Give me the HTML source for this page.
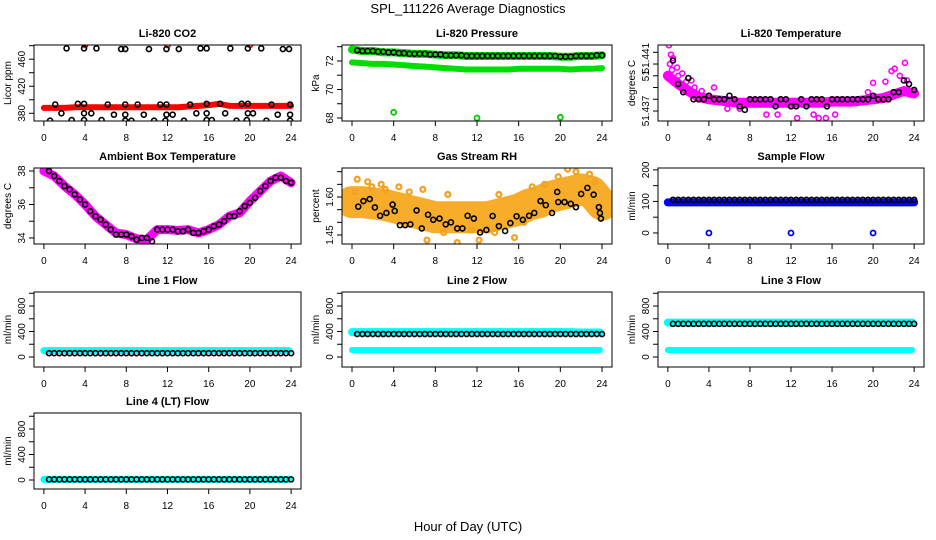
<!DOCTYPE html>
<html><head><meta charset="utf-8"><style>
html,body{margin:0;padding:0;background:#fff;}
svg{display:block;font-family:"Liberation Sans",sans-serif;}
</style></head><body>
<svg id="chart" width="936" height="540" viewBox="0 0 936 540" xmlns="http://www.w3.org/2000/svg">
<text x="468" y="13" text-anchor="middle" font-size="13">SPL_111226  Average Diagnostics</text>
<text x="468" y="531" text-anchor="middle" font-size="13">Hour of Day (UTC)</text>
</svg>
<script>
// ---- data ----
const hoursFull = [0,1,2,3,4,5,6,7,8,9,10,11,12,13,14,15,16,17,18,19,20,21,22,23,24];
const hoursHalf = [0.5,1,1.5,2,2.5,3,3.5,4,4.5,5,5.5,6,6.5,7,7.5,8,8.5,9,9.5,10,10.5,11,11.5,12,12.5,13,13.5,14,14.5,15,15.5,16,16.5,17,17.5,18,18.5,19,19.5,20,20.5,21,21.5,22,22.5,23,23.5,24];
const outlierHours = [4,12,20];
const xTicks = [0,4,8,12,16,20,24];

const co2Band = [388,388,388,389,389,389,389,389,389,389,389,389,389,389,390,391,392,394,391,391,391,391,391,391,391];
const co2PtHours = [2.2,3.9,5.1,7.5,7.9,10.2,11.9,13.1,15.2,15.8,18.1,19.8,21.1,23.2,23.8,
 1.1,3.3,3.9,6.2,7.9,9.1,11.3,11.9,14.2,15.8,17.1,19.2,19.8,22.1,23.9,
 1.7,3.9,4.6,6.8,7.9,9.7,11.9,12.5,14.8,15.8,17.6,19.8,20.3,22.7,23.9,
 0.6,2.7,3.9,5.6,7.9,8.5,10.7,11.8,13.6,15.8,16.3,18.7,19.7,21.6,23.9];
const co2PtVals = [476,476,476,475,475,475,475,475,476,476,476,476,476,475,475,
 393,394,394,393,393,393,393,393,393,394,394,394,394,393,393,
 380,380,380,378,378,378,378,378,380,380,380,380,380,378,378,
 369,370,370,370,369,369,369,369,369,370,370,369,370,369,369];
const co2Outliers = [481,481,481];

const presUpper = [72.8,72.7,72.7,72.6,72.6,72.55,72.5,72.5,72.45,72.4,72.4,72.35,72.35,72.35,72.35,72.35,72.35,72.35,72.35,72.35,72.3,72.3,72.35,72.35,72.4];
const presLower = [71.9,71.85,71.8,71.8,71.75,71.7,71.65,71.6,71.55,71.5,71.45,71.4,71.4,71.4,71.4,71.4,71.45,71.45,71.45,71.45,71.45,71.4,71.45,71.45,71.5];
const presBlack = [72.75,72.7,72.7,72.7,72.65,72.65,72.6,72.6,72.55,72.55,72.5,72.5,72.5,72.5,72.45,72.45,72.45,72.4,72.4,72.4,72.4,72.35,72.35,72.35,72.35,72.35,72.35,72.35,72.35,72.35,72.35,72.35,72.35,72.35,72.35,72.35,72.35,72.35,72.35,72.3,72.3,72.3,72.35,72.35,72.35,72.35,72.4,72.4];
const presOutliers = [68.4,68.0,68.05];

const tempBand = [51.4400,51.4393,51.4387,51.4382,51.4380,51.4379,51.4378,51.4377,51.4377,51.4377,51.4377,51.4377,51.4377,51.4377,51.4377,51.4377,51.4378,51.4378,51.4378,51.4379,51.4380,51.4381,51.4384,51.4387,51.4385];
const tempScatHours = [0.1,0.3,0.5,0.9,1.4,2.3,4.5,5.8,7.0,9.6,10.7,12.6,14.2,14.7,15.4,16.3,20.0,21.2,21.8,22.1,23.1,23.3,23.6,0.2,1.0,0.4,1.8,2.6,3.3,19.5,22.6];
const tempScatVals = [51.4426,51.4418,51.4415,51.4407,51.4402,51.4396,51.4390,51.4372,51.4372,51.4367,51.4367,51.4364,51.4367,51.4364,51.4364,51.4367,51.4394,51.4395,51.4404,51.4406,51.4411,51.4396,51.4384,51.4410,51.4400,51.4405,51.4395,51.4390,51.4387,51.4386,51.4400];
const tempBlack = [51.4413,51.4393,51.4386,51.4398,51.4380,51.4380,51.4380,51.4383,51.4380,51.4380,51.4380,51.4383,51.4380,51.4374,51.4371,51.4380,51.4380,51.4380,51.4380,51.4380,51.4374,51.4380,51.4380,51.4374,51.4374,51.4380,51.4374,51.4380,51.4380,51.4380,51.4374,51.4380,51.4380,51.4380,51.4380,51.4380,51.4380,51.4380,51.4380,51.4383,51.4380,51.4380,51.4380,51.4386,51.4386,51.4396,51.4393,51.4388];

const ambBand = [38,37.7,37.1,36.6,36.0,35.3,34.8,34.3,34.2,33.95,33.9,34.5,34.5,34.45,34.5,34.3,34.5,34.8,35.3,35.5,36.2,36.8,37.4,37.7,37.3];
const ambBlack = [38.0,37.7,37.4,37.1,36.9,36.6,36.3,36.0,35.6,35.3,35.1,34.8,34.5,34.2,34.2,34.2,34.1,33.9,34.0,34.0,33.8,34.5,34.5,34.5,34.5,34.4,34.4,34.5,34.3,34.3,34.4,34.5,34.7,34.8,35.0,35.3,35.3,35.6,35.9,36.1,36.4,36.8,37.1,37.4,37.6,37.6,37.4,37.3];

const rhBand = [1.58,1.58,1.575,1.57,1.56,1.55,1.54,1.53,1.52,1.52,1.52,1.52,1.52,1.52,1.53,1.54,1.55,1.57,1.58,1.60,1.61,1.62,1.63,1.62,1.57];
const rhScatHours = [0.5,1.5,2.8,4.5,7.2,9.2,10.1,12.2,14.1,15.6,19.8,20.7,21.5,22.8,23.3,6.8,3.2,0.3,1.9,5.5,8.8,11.5,13.7,16.5,18.5,17.3];
const rhScatVals = [1.67,1.66,1.65,1.64,1.43,1.61,1.42,1.43,1.61,1.44,1.68,1.71,1.70,1.69,1.66,1.63,1.63,1.62,1.64,1.62,1.46,1.47,1.46,1.50,1.65,1.64];
const rhHours = [0.6,1.1,1.7,2.2,2.7,3.3,3.9,4.1,4.6,5.1,5.6,6.2,6.7,7.3,7.8,8.4,9.0,9.5,10.1,10.6,11.1,11.7,12.3,12.9,13.5,14.1,14.7,15.2,15.8,16.4,17.0,17.5,18.1,18.6,19.2,19.7,19.8,20.4,21.0,21.5,22.0,22.6,23.2,23.7,23.8,23.9];
const rhVals = [1.562,1.584,1.592,1.559,1.526,1.537,1.57,1.545,1.489,1.489,1.492,1.547,1.476,1.53,1.51,1.515,1.492,1.50,1.476,1.476,1.526,1.515,1.46,1.47,1.525,1.485,1.466,1.497,1.524,1.51,1.526,1.537,1.584,1.568,1.537,1.62,1.58,1.58,1.573,1.56,1.612,1.636,1.609,1.56,1.537,1.515];

const sampleBand = [97,97,97,97,97,97,97,97,97,97,97,97,97,97,97,97,97,97,97,97,97,97,97,97,97];
const sampleBlack = [105,105,105,105,105,105,105,105,105,105,105,105,105,105,105,105,105,105,105,105,105,105,105,105,105,105,105,105,105,105,105,105,105,105,105,105,105,105,105,105,105,105,105,105,105,105,105,105];
const sampleOutliers = [0,0,0];

const line1Cyan = [100,100,100,100,100,100,100,100,100,100,100,100,100,100,100,100,100,100,100,100,100,100,100,100,100];
const line1Black = [60,60,60,60,60,60,60,60,60,60,60,60,60,60,60,60,60,60,60,60,60,60,60,60,60,60,60,60,60,60,60,60,60,60,60,60,60,60,60,60,60,60,60,60,60,60,60,60];
const line2CyanHi = [390,390,390,390,390,390,390,390,390,390,390,390,390,390,390,390,390,390,390,390,390,390,385,385,385];
const line2CyanLo = [110,110,110,110,110,110,110,110,110,110,110,110,110,110,110,110,110,110,110,110,110,110,110,110,110];
const line2Black = [360,360,360,360,360,360,360,360,360,360,360,360,360,360,360,360,360,360,360,360,360,360,360,360,360,360,360,360,360,360,360,360,360,360,360,360,360,360,360,360,360,360,360,360,360,360,360,360];
const line3CyanHi = [540,540,540,540,540,540,540,540,540,540,540,540,540,540,540,540,540,540,540,540,540,540,540,540,540];
const line3CyanLo = [110,110,110,110,110,110,110,110,110,110,110,110,110,110,110,110,110,110,110,110,110,110,110,110,110];
const line3Black = [520,520,520,520,520,520,520,520,520,520,520,520,520,520,520,520,520,520,520,520,520,520,520,520,520,520,520,520,520,520,520,520,520,520,520,520,520,520,520,520,520,520,520,520,520,520,520,520];
const line4Cyan = [10,10,10,10,10,10,10,10,10,10,10,10,10,10,10,10,10,10,10,10,10,10,10,10,10];
const line4Black = [10,10,10,10,10,10,10,10,10,10,10,10,10,10,10,10,10,10,10,10,10,10,10,10,10,10,10,10,10,10,10,10,10,10,10,10,10,10,10,10,10,10,10,10,10,10,10,10];

// ---- drawing ----
const NS = "http://www.w3.org/2000/svg";
const svg = document.getElementById("chart");
function mk(tag, attrs, parent) {
  const e = document.createElementNS(NS, tag);
  for (const k in attrs) e.setAttribute(k, attrs[k]);
  (parent || svg).appendChild(e);
  return e;
}
function makePanel(p) {
  const g = mk("g", {});
  
  
  const b = p.box;
  const xs = h => b[0] + (h + 0.96) / 25.92 * (b[2] - b[0]);
  const ys = v => b[3] - (v - p.yd[0]) / (p.yd[1] - p.yd[0]) * (b[3] - b[1]);
  p.xs = xs; p.ys = ys; p.g = g;
  const t = mk("text", {x: (b[0] + b[2]) / 2, y: b[1] - 8, "text-anchor": "middle", "font-size": 11, "font-weight": "bold"}, g);
  t.textContent = p.title;
  
  
  const ax = mk("g", {stroke: "#000", "stroke-width": 1}, g);
  
  
  mk("line", {x1: xs(0), x2: xs(24), y1: b[3], y2: b[3]}, ax);
  xTicks.forEach(v => {
    mk("line", {x1: xs(v), x2: xs(v), y1: b[3], y2: b[3] + 5}, ax);
    const lt = mk("text", {x: xs(v), y: b[3] + 20, "text-anchor": "middle", "font-size": 10, stroke: "none"}, ax);
    lt.textContent = v;
    
    
  });
  const ay = mk("g", {stroke: "#000", "stroke-width": 1}, g);
  
  
  mk("line", {x1: b[0], x2: b[0], y1: ys(p.yt[0]), y2: ys(p.yt[p.yt.length - 1])}, ay);
  p.yt.forEach(v => mk("line", {x1: b[0] - 5, x2: b[0], y1: ys(v), y2: ys(v)}, ay));
  p.yl.forEach((lab, i) => {
    const y = ys(p.ylv[i]);
    const lt = mk("text", {x: b[0] - 9, y: y, "text-anchor": "middle", "font-size": 10, stroke: "none", transform: `rotate(-90 ${b[0] - 9} ${y})`}, ay);
    lt.textContent = lab;
    
    
  });
  const yt = mk("text", {x: b[0] - 23, y: (b[1] + b[3]) / 2, "text-anchor": "middle", "font-size": 10, transform: `rotate(-90 ${b[0] - 23} ${(b[1] + b[3]) / 2})`}, g);
  yt.textContent = p.ylab;
  
  
  const cp = mk("clipPath", {id: "clip-" + p.name}, g);
  mk("rect", {x: b[0], y: b[1], width: b[2] - b[0], height: b[3] - b[1]}, cp);
  p.plot = mk("g", {"clip-path": "url(#clip-" + p.name + ")"}, g);
  return p;
}
function band(p, hrs, vals, color, width, name) {
  const pts = hrs.map((h, i) => p.xs(h) + "," + p.ys(vals[i])).join(" ");
  const l = mk("polyline", {points: pts, fill: "none", stroke: color, "stroke-width": width, "stroke-linecap": "round", "stroke-linejoin": "round"}, p.plot);
  
  
}
function pts(p, hrs, vals, color, r, sw, name) {
  const g = mk("g", {fill: "none", stroke: color, "stroke-width": sw}, p.plot);
  
  
  hrs.forEach((h, i) => {
    const c = mk("circle", {cx: p.xs(h), cy: p.ys(vals[i]), r: r}, g);
    
    
  });
}
function frame(p) {
  const b = p.box;
  const r = mk("rect", {x: b[0], y: b[1], width: b[2] - b[0], height: b[3] - b[1], fill: "none", stroke: "#000", "stroke-width": 1}, p.g);
  
  
}
const cols = [[34, 301], [342, 612], [658, 924]];
const rows = [[45, 121], [168, 244], [292, 367], [413, 489]];
const B = (c, r) => [cols[c][0], rows[r][0], cols[c][1], rows[r][1]];
const flowT = [0, 200, 400, 600, 800, 1000];

// CO2
let p = makePanel({name: "co2", title: "Li-820 CO2", box: B(0, 0), yd: [368.6, 481], yt: [380, 400, 420, 440, 460, 480], yl: ["380", "420", "460"], ylv: [380, 420, 460], ylab: "Licor ppm"});
band(p, hoursFull, co2Band, "#ff0000", 6, "co2-red-series");
pts(p, outlierHours, co2Outliers, "#ff0000", 2.5, 1.8, "co2-red-outliers");
pts(p, co2PtHours, co2PtVals, "#000", 2.5, 1.6, "co2-black-series");
frame(p);

// Pressure
p = makePanel({name: "pressure", title: "Li-820 Pressure", box: B(1, 0), yd: [67.79, 73.12], yt: [68, 69, 70, 71, 72, 73], yl: ["68", "70", "72"], ylv: [68, 70, 72], ylab: "kPa"});
band(p, hoursFull, presUpper, "#00dd00", 8, "pressure-green-upper");
band(p, hoursFull, presLower, "#00dd00", 6, "pressure-green-lower");
pts(p, outlierHours, presOutliers, "#00cc00", 2.5, 1.8, "pressure-green-outliers");
pts(p, hoursHalf, presBlack, "#000", 2.5, 1.6, "pressure-black-series");
frame(p);

// Li-820 temperature
p = makePanel({name: "li820-temp", title: "Li-820 Temperature", box: B(2, 0), yd: [51.43615, 51.44262], yt: [51.437, 51.438, 51.439, 51.440, 51.441, 51.442], yl: ["51.437", "51", "51.441"], ylv: [51.437, 51.440, 51.4415], ylab: "degrees C"});
band(p, hoursFull, tempBand, "#ff00ff", 10, "temp-magenta-band");
pts(p, tempScatHours, tempScatVals, "#ff00ff", 2.5, 1.6, "temp-magenta-scatter");
pts(p, hoursHalf, tempBlack, "#000", 2.5, 1.6, "temp-black-series");
frame(p);

// Ambient box temp
p = makePanel({name: "ambient", title: "Ambient Box Temperature", box: B(0, 1), yd: [33.64, 38.18], yt: [34, 35, 36, 37, 38], yl: ["34", "36", "38"], ylv: [34, 36, 38], ylab: "degrees C"});
band(p, hoursFull, ambBand, "#ff00ff", 9, "ambient-magenta-band");
pts(p, hoursHalf, ambBlack, "#000", 2.5, 1.6, "ambient-black-series");
frame(p);

// Gas stream RH
p = makePanel({name: "rh", title: "Gas Stream RH", box: B(1, 1), yd: [1.4145, 1.7145], yt: [1.45, 1.50, 1.55, 1.60, 1.65, 1.70], yl: ["1.45", "1.60"], ylv: [1.45, 1.60], ylab: "percent"});
band(p, hoursFull, rhBand, "#f7ad2a", 32, "rh-orange-band");
pts(p, rhScatHours, rhScatVals, "#f4a020", 2.5, 2.2, "rh-orange-scatter");
pts(p, rhHours, rhVals, "#000", 2.5, 1.6, "rh-black-series");
frame(p);

// Sample flow
p = makePanel({name: "sample-flow", title: "Sample Flow", box: B(2, 1), yd: [-35, 206], yt: [0, 50, 100, 150, 200], yl: ["0", "100", "200"], ylv: [0, 100, 200], ylab: "ml/min"});
band(p, hoursFull, sampleBand, "#0000ff", 8, "sample-blue-band");
pts(p, outlierHours, sampleOutliers, "#0000ff", 2.5, 1.8, "sample-blue-outliers");
pts(p, hoursHalf, sampleBlack, "#000", 2.5, 1.6, "sample-black-series");
frame(p);

// Line flows
const cyanH = [0,1,2,3,4,5,6,7,8,9,10,11,12,13,14,15,16,17,18,19,20,21,22,23,23.8];
p = makePanel({name: "line1-flow", title: "Line 1 Flow", box: B(0, 2), yd: [-157, 1020], yt: flowT, yl: ["0", "400", "800"], ylv: [0, 400, 800], ylab: "ml/min"});
band(p, cyanH, line1Cyan, "#00ffff", 7, "line1-cyan-series");
pts(p, hoursHalf, line1Black, "#000", 2.5, 1.6, "line1-black-series");
frame(p);

p = makePanel({name: "line2-flow", title: "Line 2 Flow", box: B(1, 2), yd: [-157, 1020], yt: flowT, yl: ["0", "400", "800"], ylv: [0, 400, 800], ylab: "ml/min"});
band(p, cyanH, line2CyanHi, "#00ffff", 8, "line2-cyan-upper");
band(p, cyanH, line2CyanLo, "#00ffff", 6, "line2-cyan-lower");
pts(p, hoursHalf, line2Black, "#000", 2.5, 1.6, "line2-black-series");
frame(p);

p = makePanel({name: "line3-flow", title: "Line 3 Flow", box: B(2, 2), yd: [-157, 1020], yt: flowT, yl: ["0", "400", "800"], ylv: [0, 400, 800], ylab: "ml/min"});
band(p, cyanH, line3CyanHi, "#00ffff", 8, "line3-cyan-upper");
band(p, cyanH, line3CyanLo, "#00ffff", 6, "line3-cyan-lower");
pts(p, hoursHalf, line3Black, "#000", 2.5, 1.6, "line3-black-series");
frame(p);

p = makePanel({name: "line4-flow", title: "Line 4 (LT) Flow", box: B(0, 3), yd: [-141, 1051], yt: flowT, yl: ["0", "400", "800"], ylv: [0, 400, 800], ylab: "ml/min"});
band(p, cyanH, line4Cyan, "#00ffff", 7, "line4-cyan-series");
pts(p, hoursHalf, line4Black, "#000", 2.5, 1.6, "line4-black-series");
frame(p);
</script>
</body></html>
